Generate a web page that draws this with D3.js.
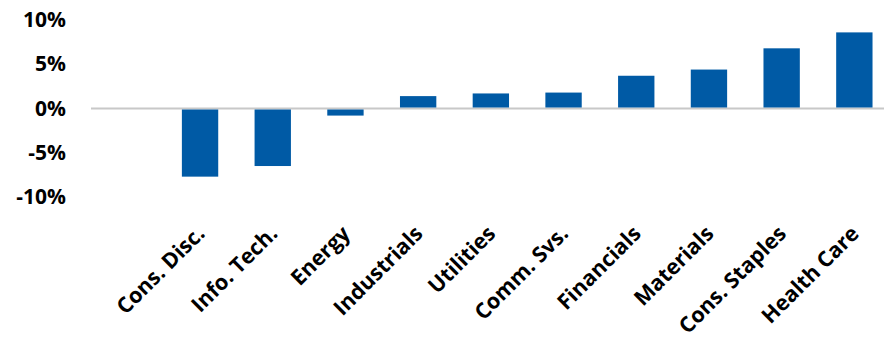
<!DOCTYPE html>
<html>
<head>
<meta charset="utf-8">
<script src="https://cdn.jsdelivr.net/npm/d3@7"></script>
<style>
  html, body { margin: 0; padding: 0; background: #fff; }
  svg text { font-family: "Open Sans", sans-serif; font-weight: 700; fill: #000; }
</style>
</head>
<body>
<svg id="chart" width="884" height="341"></svg>
<script>
// Sector returns (%)
const sectors = ["Cons. Disc.", "Info. Tech.", "Energy", "Industrials", "Utilities",
                 "Comm. Svs.", "Financials", "Materials", "Cons. Staples", "Health Care"];
const returns = [-7.7, -6.5, -0.8, 1.4, 1.7, 1.8, 3.7, 4.4, 6.8, 8.6];
const yTicks = [10, 5, 0, -5, -10];

const svg = d3.select("#chart");

const y = d3.scaleLinear().domain([-10, 10]).range([197, 20]);
const x = d3.scaleBand().domain(sectors).range([163.7, 890.7])
  .paddingInner(0.5).paddingOuter(0.25);

// zero baseline
svg.append("line")
  .attr("x1", 91).attr("x2", 884)
  .attr("y1", y(0)).attr("y2", y(0))
  .attr("stroke", "#c8c8c8").attr("stroke-width", 2);

// bars
svg.append("g").selectAll("rect")
  .data(sectors.map((s, i) => ({ s, v: returns[i] })))
  .join("rect")
  .attr("x", d => x(d.s))
  .attr("width", x.bandwidth())
  .attr("y", d => d.v >= 0 ? y(d.v) : y(0) + 1)
  .attr("height", d => Math.abs(y(d.v) - y(0)) - 1)
  .attr("fill", "#005aa5");

// y axis labels
const yAxis = d3.axisLeft(y).tickValues(yTicks).tickSize(0).tickPadding(0)
  .tickFormat(d => d + "%");
svg.append("g")
  .attr("transform", "translate(66,0)")
  .call(yAxis)
  .call(g => g.select(".domain").remove())
  .call(g => g.selectAll("text")
    .style("font-family", "'Open Sans', sans-serif")
    .style("font-weight", 700)
    .style("font-size", "21px")
    .attr("fill", "#000"));

// category labels, rotated
const xAxis = d3.axisBottom(x).tickSize(0).tickPadding(0);
svg.append("g")
  .call(xAxis)
  .call(g => g.select(".domain").remove())
  .call(g => g.selectAll(".tick").attr("transform", d => `translate(${x(d) + x.bandwidth() / 2 + 6},235)`))
  .call(g => g.selectAll("text")
    .attr("x", 0).attr("y", 0).attr("dy", 0)
    .attr("text-anchor", "end")
    .attr("transform", "rotate(-45)")
    .style("font-family", "'Open Sans', sans-serif")
    .style("font-weight", 700)
    .style("font-size", "21.5px")
    .attr("fill", "#000"));
</script>
</body>
</html>
